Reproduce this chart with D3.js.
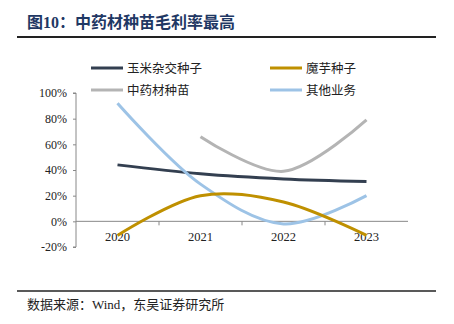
<!DOCTYPE html>
<html><head><meta charset="utf-8">
<script src="https://cdn.jsdelivr.net/npm/d3@7/dist/d3.min.js"></script>
<style>body{margin:0;background:#fff}svg{display:block}</style>
</head><body>
<script>
const categories = ["2020","2021","2022","2023"];
const seriesNames = ["玉米杂交种子","魔芋种子","中药材种苗","其他业务"];
const cornValues = [44, 37, 33, 31];
const konjacValues = [-11, 20, 15, -11];
const herbValues = [null, 66, 39, 79];
const otherValues = [92, 29, -2, 20];
const yTicks = [-20, 0, 20, 40, 60, 80, 100];
const colors = ["#333f50", "#bf9000", "#b4b4b4", "#9dc3e6"];
const title = "图10：中药材种苗毛利率最高";
const source = "数据来源：Wind，东吴证券研究所";

const W = 454, H = 324;
const svg = d3.select("body").append("svg").attr("width", W).attr("height", H);
const cjk = "'Noto Sans CJK SC', sans-serif";
const serif = "'Liberation Serif', 'DejaVu Serif', serif";
const mixed = "'Liberation Serif', 'Noto Sans CJK SC', serif";

svg.append("text").attr("x", 27).attr("y", 28).text(title)
  .attr("font-family", mixed).attr("font-weight", "bold").attr("font-size", 16).attr("fill", "#1f3864");
svg.append("line").attr("x1", 17).attr("x2", 436).attr("y1", 37).attr("y2", 37).attr("stroke", "#222").attr("stroke-width", 2);
svg.append("line").attr("x1", 17).attr("x2", 436).attr("y1", 291).attr("y2", 291).attr("stroke", "#222").attr("stroke-width", 1.5);
svg.append("text").attr("x", 27).attr("y", 309).text(source)
  .attr("font-family", mixed).attr("font-size", 13).attr("fill", "#222");

const x = d3.scaleBand().domain(categories).range([76, 408]);
const y = d3.scaleLinear().domain([-20, 100]).range([247, 93]);

const g = svg.append("g");
const yAxis = g.append("g").attr("transform", "translate(76,0)")
  .call(d3.axisLeft(y).tickValues(yTicks).tickSize(3).tickFormat(d => d + "%"));
yAxis.select(".domain").attr("stroke", "#888").attr("d", `M-3,${y(100)}H0V${y(-20)}H-3`);
yAxis.selectAll(".tick line").attr("stroke", "#888");
yAxis.selectAll(".tick text").attr("font-family", serif).attr("font-size", 12).attr("fill", "#222").attr("x", -9);

const xAxis = g.append("g").attr("transform", `translate(0,${y(0)})`)
  .call(d3.axisBottom(x).tickSize(0).tickPadding(11));
xAxis.select(".domain").attr("stroke", "#888").attr("d", `M76,0H408`);
xAxis.selectAll(".tick text").attr("font-family", serif).attr("font-size", 12.5).attr("fill", "#222");
categories.slice(1).forEach(c => {
  g.append("line").attr("x1", x(c)).attr("x2", x(c)).attr("y1", y(0)).attr("y2", y(0) + 4).attr("stroke", "#888");
});

const all = [cornValues, konjacValues, herbValues, otherValues];
const line = d3.line()
  .x(d => x(d.c) + x.bandwidth() / 2)
  .y(d => y(d.v))
  .curve(d3.curveCatmullRom.alpha(0.5));
const order = [0, 2, 3, 1];
order.forEach(i => {
  const data = categories.map((c, j) => ({ c, v: all[i][j] })).filter(d => d.v !== null);
  g.append("path").attr("d", line(data)).attr("fill", "none")
    .attr("stroke", colors[i]).attr("stroke-width", 3);
});

const legPos = [[91, 68], [270, 68], [91, 90], [270, 90]];
seriesNames.forEach((n, i) => {
  const [lx, ly] = legPos[i];
  svg.append("line").attr("x1", lx).attr("x2", lx + 32).attr("y1", ly).attr("y2", ly)
    .attr("stroke", colors[i]).attr("stroke-width", 3);
  svg.append("text").attr("x", lx + 36).attr("y", ly + 4.5).text(n)
    .attr("font-family", cjk).attr("font-size", 12.5).attr("fill", "#222");
});
</script>
</body></html>
